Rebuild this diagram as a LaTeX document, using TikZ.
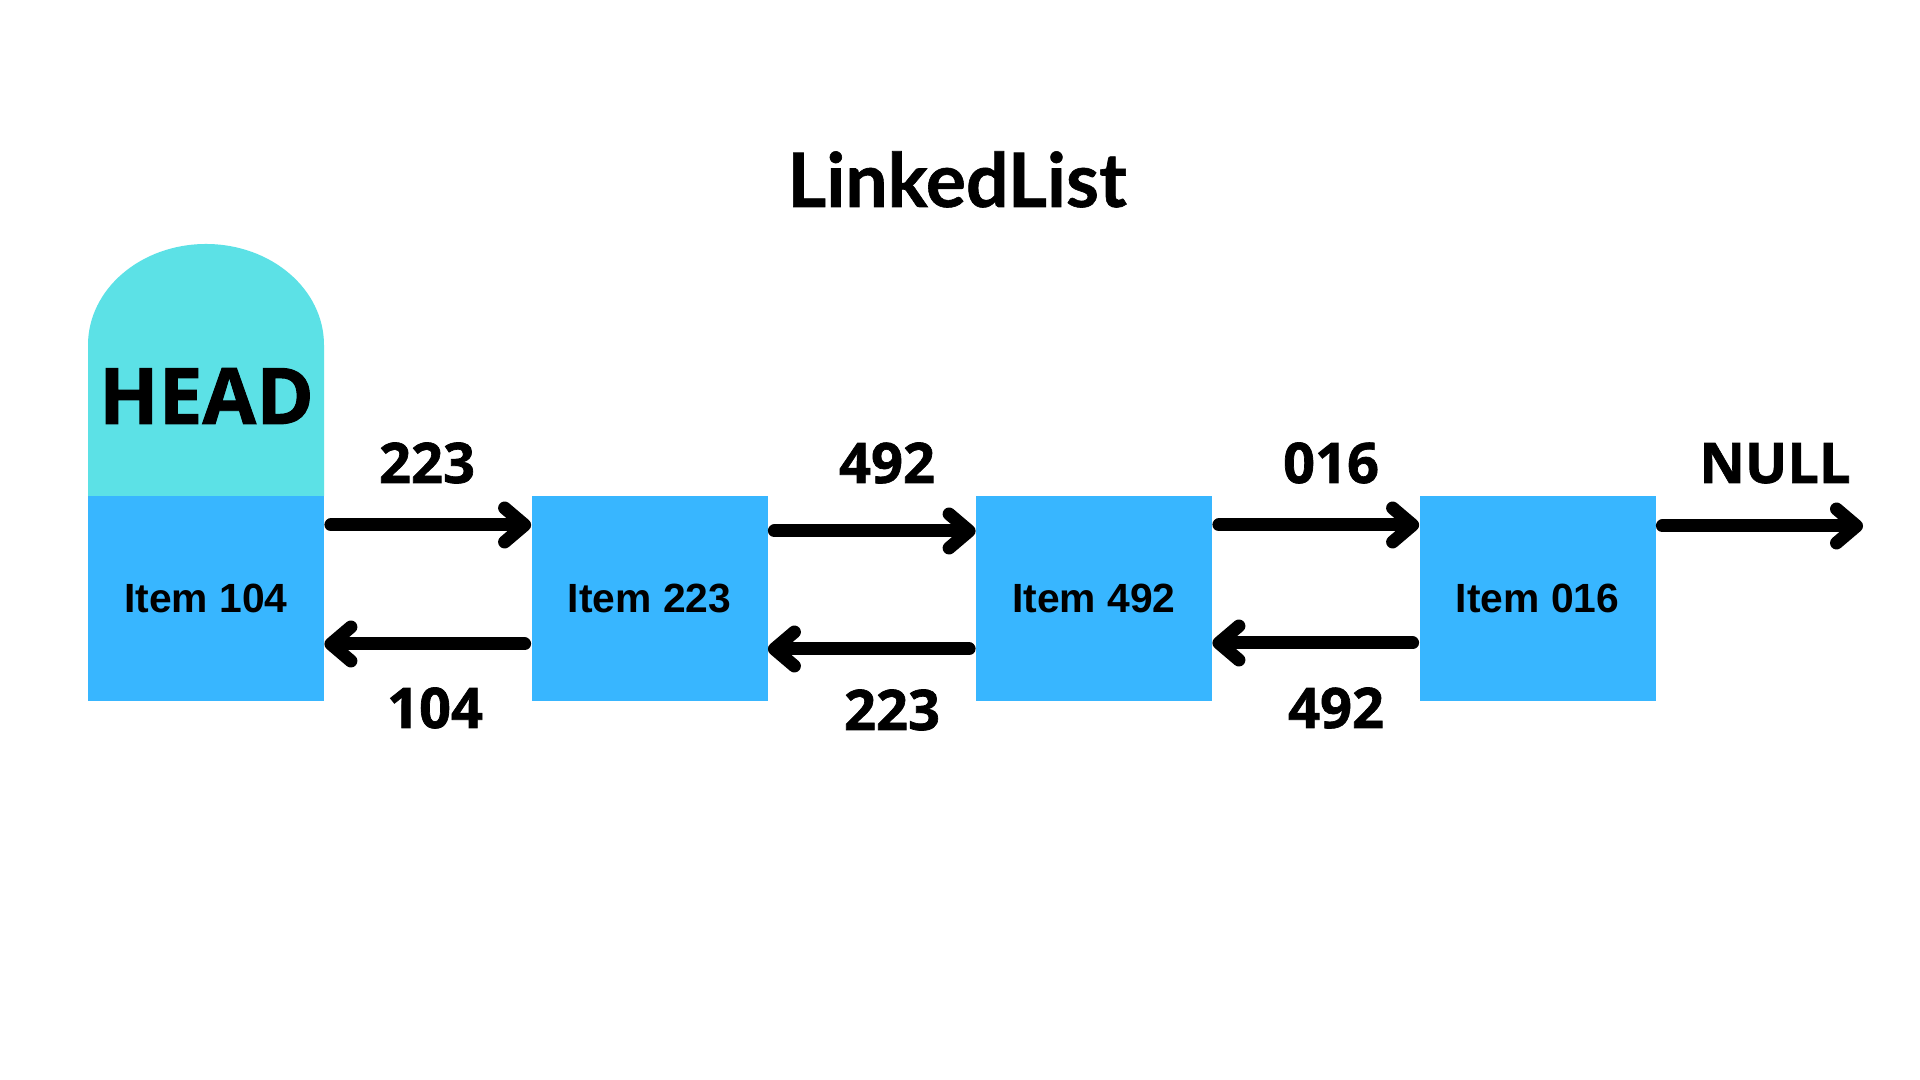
\documentclass[tikz,border=0pt]{standalone}
\usepackage{fontspec}
\setmainfont{Open Sans}[BoldFeatures={FakeBold=1.2}]
\newfontfamily\latofont{Lato}[BoldFeatures={FakeBold=0.8}]
\newfontfamily\itemfont{Liberation Sans}
\usetikzlibrary{arrows.meta}
\definecolor{headcyan}{HTML}{5CE1E6}
\definecolor{nodeblue}{HTML}{38B6FF}
\begin{document}
\begin{tikzpicture}[x=0.5pt,y=0.5pt,
  itembox/.style={fill=nodeblue, minimum width=118pt, minimum height=102.5pt, inner sep=0pt,
    font=\itemfont\bfseries\fontsize{20.4}{24}\selectfont},
  ptr/.style={line width=6.5pt, line cap=round, -{Straight Barb[length=10pt,width=17pt,round]}},
  numlbl/.style={font=\bfseries\fontsize{28}{32}\selectfont, anchor=base, inner sep=0pt}]
\useasboundingbox[fill=white] (0,0) rectangle (1920,1080);
% head cap
\fill[headcyan] (88,584) -- (88,735) arc[start angle=180,end angle=0,x radius=59pt,y radius=50.5pt] -- (324,584) -- cycle;
\node[font=\bfseries\fontsize{39}{44}\selectfont, anchor=base, inner sep=0pt] (head) at (206.5,656) {HEAD};
% title
\node[font=\latofont\bfseries\fontsize{37.5}{44}\selectfont, anchor=base, inner sep=0pt] (title) at (957,873) {LinkedList};
% boxes
\node[itembox] (n1) at (206,481.5) {Item 104};
\node[itembox] (n2) at (649.5,481.5) {Item 223};
\node[itembox] (n3) at (1094,481.5) {Item 492};
\node[itembox] (n4) at (1537.5,481.5) {Item 016};
\coordinate (nullend) at (1863,554);
% forward pointers
\draw[ptr] ([xshift=3.25pt]n1.east |- 0,555) -- (n2.west |- 0,555);
\draw[ptr] ([xshift=3.25pt]n2.east |- 0,549) -- (n3.west |- 0,549);
\draw[ptr] ([xshift=3.25pt]n3.east |- 0,555) -- (n4.west |- 0,555);
\draw[ptr] ([xshift=3.25pt]n4.east |- 0,554) -- (nullend);
% backward pointers
\draw[ptr] ([xshift=-3.25pt]n2.west |- 0,436) -- (n1.east |- 0,436);
\draw[ptr] ([xshift=-3.25pt]n3.west |- 0,431) -- (n2.east |- 0,431);
\draw[ptr] ([xshift=-3.25pt]n4.west |- 0,437) -- (n3.east |- 0,437);
% labels
\node[numlbl] (l1) at (427,597) {223};
\node[numlbl] (l2) at (887,597) {492};
\node[numlbl] (l3) at (1331,597) {016};
\node[numlbl] (l4) at (1775,597) {NULL};
\node[numlbl] (b1) at (435,352) {104};
\node[numlbl] (b2) at (892,350) {223};
\node[numlbl] (b3) at (1336,352) {492};
\end{tikzpicture}
\end{document}
